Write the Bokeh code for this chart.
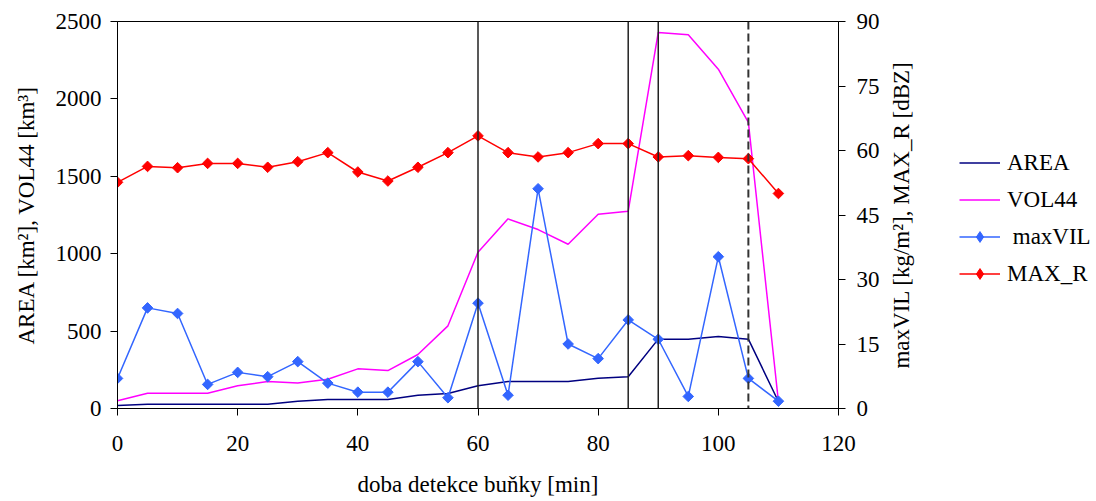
import math
from bokeh.plotting import figure
from bokeh.layouts import row
from bokeh.models import Range1d, LinearAxis, Legend, LegendItem, Span, FixedTicker
from bokeh.embed import file_html
from bokeh.resources import INLINE

# data
time_min = [0, 5, 10, 15, 20, 25, 30, 35, 40, 45, 50, 55, 60, 65, 70, 75, 80, 85, 90, 95, 100, 105, 110]
area = [19, 28, 28, 28, 28, 28, 47, 58, 58, 58, 86, 97, 147, 174, 174, 174, 196, 205, 448, 448, 465, 448, 45]
vol44 = [50, 99, 99, 99, 147, 174, 164, 189, 256, 245, 349, 534, 1010, 1225, 1156, 1061, 1255, 1275, 2429, 2414, 2192, 1848, 45]
max_vil = [7.0, 23.4, 22.1, 5.6, 8.4, 7.4, 10.9, 5.9, 3.8, 3.8, 10.9, 2.5, 24.5, 3.1, 51.1, 15.0, 11.6, 20.6, 16.1, 2.8, 35.3, 7.0, 1.7]
max_r = [52.6, 56.3, 56.0, 57.0, 57.0, 56.1, 57.4, 59.5, 55.0, 52.9, 56.1, 59.5, 63.4, 59.5, 58.5, 59.5, 61.6, 61.6, 58.5, 58.8, 58.4, 58.1, 50.0]
solid_marks = [60, 85, 90]
dashed_marks = [105]
x_ticks = [0, 20, 40, 60, 80, 100, 120]
left_ticks = [0, 500, 1000, 1500, 2000, 2500]
right_ticks = [0, 15, 30, 45, 60, 75, 90]
series_names = ["AREA", "VOL44", " maxVIL", "MAX_R"]
series_values = [area, vol44, max_vil, max_r]
series_colors = ["#000080", "#FF00FF", "#3366FF", "#FF0000"]

FONT = "Liberation Serif"
FS = "23px"

W_MAIN = 882
p = figure(width=W_MAIN, height=501, output_backend="svg", toolbar_location=None,
           x_range=Range1d(0, 120), y_range=Range1d(0, 2500),
           min_border_left=117, min_border_right=W_MAIN - 838, min_border_top=21, min_border_bottom=93)
p.extra_y_ranges = {"r": Range1d(0, 90)}
p.xgrid.visible = False
p.ygrid.visible = False
p.outline_line_color = "black"
p.outline_line_width = 1
p.background_fill_color = "white"
p.border_fill_color = "white"

right_axis = LinearAxis(y_range_name="r")
p.add_layout(right_axis, "right")

p.xaxis.ticker = FixedTicker(ticks=x_ticks)
p.yaxis[0].ticker = FixedTicker(ticks=left_ticks)
right_axis.ticker = FixedTicker(ticks=right_ticks)

p.xaxis.axis_label = "doba detekce buňky [min]"
p.yaxis[0].axis_label = "AREA [km²], VOL44 [km³]"

for ax in [p.xaxis[0], p.yaxis[0], right_axis]:
    ax.major_label_text_font = FONT
    ax.major_label_text_font_size = FS
    ax.major_label_text_color = "black"
    ax.axis_label_text_font = FONT
    ax.axis_label_text_font_size = FS
    ax.axis_label_text_font_style = "normal"
    ax.axis_label_text_color = "black"
    ax.axis_line_color = "black"
    ax.axis_line_width = 1
    ax.major_tick_line_color = "black"
    ax.major_tick_in = 0
    ax.major_tick_out = 7
    ax.minor_tick_line_color = None
    ax.axis_label_standoff = 14
    ax.major_label_standoff = 9
right_axis.major_label_standoff = 11
p.xaxis[0].axis_label_standoff = 18
p.xaxis[0].major_label_standoff = 20

for loc in solid_marks:
    p.add_layout(Span(location=loc, dimension="height", line_color="#222222", line_width=1.5))
for loc in dashed_marks:
    p.add_layout(Span(location=loc, dimension="height", line_color="#333333", line_width=2, line_dash="8 4"))

p.line(time_min, area, line_color=series_colors[0], line_width=1.5)
p.line(time_min, vol44, line_color=series_colors[1], line_width=1.5)
p.line(time_min, max_vil, line_color=series_colors[2], line_width=1.5, y_range_name="r")
p.scatter(time_min, max_vil, marker="square", angle=math.pi / 4, size=7.5,
          fill_color=series_colors[2], line_color=series_colors[2], line_width=1, y_range_name="r")
p.line(time_min, max_r, line_color=series_colors[3], line_width=1.5, y_range_name="r")
p.scatter(time_min, max_r, marker="square", angle=math.pi / 4, size=7.5,
          fill_color=series_colors[3], line_color=series_colors[3], line_width=1, y_range_name="r")

# right-hand panel: right axis title (reads bottom-to-top) and the legend
W_SIDE = 1096 - W_MAIN
LEFT_SIDE = 50
q = figure(width=W_SIDE, height=501, output_backend="svg", toolbar_location=None,
           x_range=Range1d(0, 1), y_range=Range1d(0, 1),
           min_border_left=LEFT_SIDE, min_border_right=0, min_border_top=21, min_border_bottom=93)
q.xgrid.visible = False
q.ygrid.visible = False
q.outline_line_color = None
q.xaxis.visible = False
q.background_fill_color = "white"
q.border_fill_color = "white"
qa = q.yaxis[0]
qa.ticker = FixedTicker(ticks=[])
qa.axis_line_color = None
qa.major_tick_line_color = None
qa.minor_tick_line_color = None
qa.major_tick_out = 0
qa.major_tick_in = 0
qa.axis_label = "maxVIL [kg/m²], MAX_R [dBZ]"
qa.axis_label_text_font = FONT
qa.axis_label_text_font_size = FS
qa.axis_label_text_font_style = "normal"
qa.axis_label_text_color = "black"
qa.axis_label_standoff = 19

# legend renderers: the same series, lying outside this small panel's visible ranges
items = []
for i, (name, vals, col) in enumerate(zip(series_names, series_values, series_colors)):
    rs = [q.line(time_min, vals, line_color=col, line_width=1.5)]
    if i >= 2:
        rs.append(q.scatter(time_min, vals, marker="diamond", fill_color=col, line_color=col))
    items.append(LegendItem(label=name, renderers=rs))

legend = Legend(items=items, location=(959 - W_MAIN - LEFT_SIDE, 121))
legend.label_text_font = FONT
legend.label_text_font_size = FS
legend.label_text_color = "black"
legend.glyph_width = 41
legend.glyph_height = 27
legend.label_height = 27
legend.spacing = 10
legend.padding = 0
legend.margin = 0
legend.label_standoff = 7
legend.border_line_color = None
legend.background_fill_alpha = 0
q.add_layout(legend, "center")

open("out.html", "w").write(file_html(row(p, q), INLINE))
